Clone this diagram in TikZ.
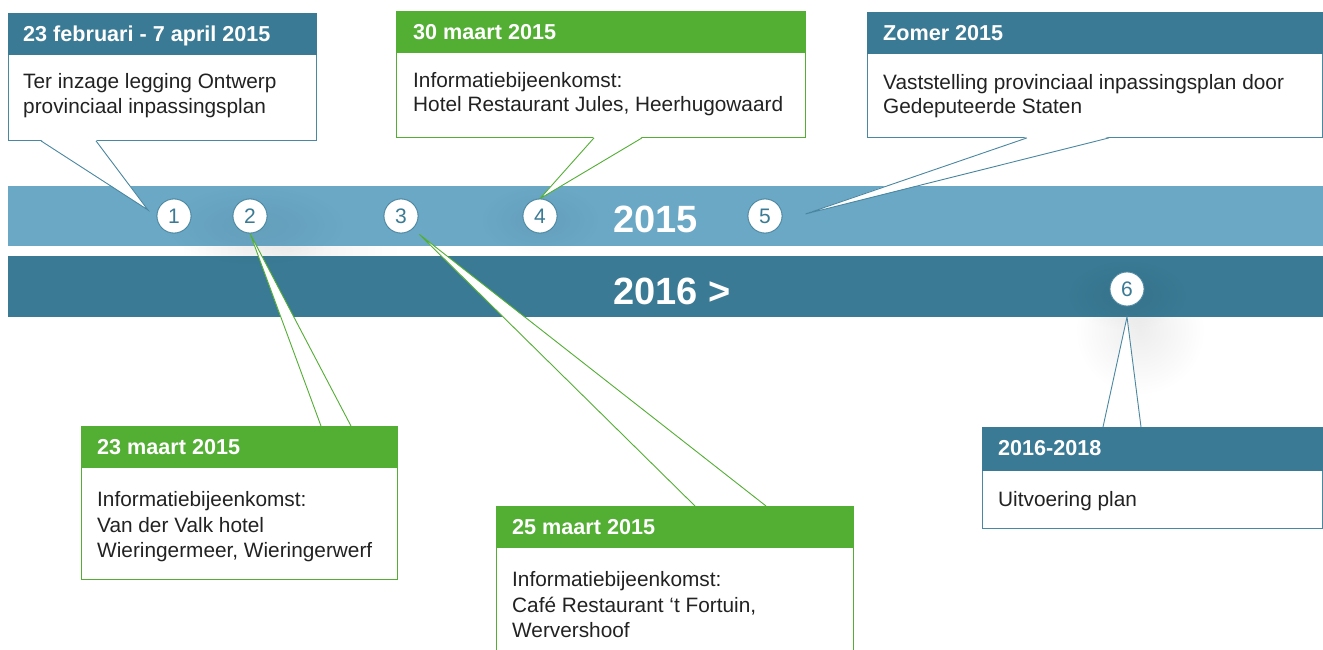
\documentclass[tikz,border=0pt]{standalone}
\usepackage{fontspec}
\setmainfont{Liberation Sans}
\usetikzlibrary{fadings,calc}

\definecolor{tealdk}{HTML}{3A7A94}
\definecolor{tealln}{HTML}{4A87A1}
\definecolor{bandlt}{HTML}{6AA8C6}
\definecolor{grn}{HTML}{53AE34}
\definecolor{txt}{HTML}{222222}

\tikzfading[name=glowfade, inner color=transparent!0, outer color=transparent!100]

\begin{document}
\begin{tikzpicture}[x=1pt,y=-1pt,
  hdr/.style={anchor=base west, inner sep=0pt, text=white, font=\fontsize{21.6}{24}\selectfont\bfseries},
  body/.style={anchor=base west, inner sep=0pt, text=txt, font=\fontsize{20.8}{25}\selectfont},
  num/.style={circle, draw=tealln, line width=0.8pt, fill=white, minimum size=34pt, inner sep=0pt, text=tealdk, font=\fontsize{21}{21}\selectfont},
  year/.style={anchor=base west, inner sep=0pt, text=white, font=\fontsize{38}{40}\selectfont\bfseries},
  card/.style={anchor=north west, fill=white, line width=0.9pt, inner sep=0pt},
  glow/.style={fill=black, path fading=glowfade}]

\useasboundingbox (0,0) rectangle (1323,650);
\fill[white] (0,0) rectangle (1323,650);

% soft haze behind the markers
\fill[glow, opacity=0.06] (290,250) ellipse (110 and 60);
\fill[glow, opacity=0.07] (1140,330) circle (65);

% year bands
\fill[bandlt] (8,186) rectangle (1323,246);
\fill[tealdk] (8,256) rectangle (1323,317);
\fill[glow, opacity=0.06] (255,225) ellipse (90 and 40);
\fill[glow, opacity=0.05] (540,220) ellipse (60 and 35);
\fill[glow, opacity=0.06] (1127,295) ellipse (60 and 35);

\node[year] (y15) at (613,232) {2015};
\node[year] (y16) at (613,304) {2016 >};

% markers
\node[num] (c1) at (174,216) {1};
\node[num] (c2) at (250,216) {2};
\node[num] (c3) at (401,216) {3};
\node[num] (c4) at (540,216) {4};
\node[num] (c5) at (765,216) {5};
\node[num] (c6) at (1127,289) {6};

% pointer tips
\coordinate (t1) at ($(c1.center)+(-26,-6)$);
\coordinate (t2) at (c2.south);
\coordinate (t3) at ($(c3.south east)+(6,6)$);
\coordinate (t4) at (c4.north);
\coordinate (t5) at ($(c5.east)+(23,-2)$);
\coordinate (t6) at ($(c6.center)+(0,28)$);

% ---- card 1
\node[card, draw=tealln, minimum width=308pt, minimum height=127pt] (b1) at (8,13) {};
\fill[white] ($(b1.south west)+(33,-1)$) -- (t1) -- ($(b1.south west)+(88,-1)$) -- cycle;
\draw[tealln, line width=0.9pt] ($(b1.south west)+(33,0)$) -- (t1) -- ($(b1.south west)+(88,0)$);
\fill[tealdk] (b1.north west) rectangle ($(b1.north east)+(0,42)$);
\node[hdr] (h1) at (23,42) {23 februari - 7 april 2015};
\node[body] (l1a) at (23,89) {Ter inzage legging Ontwerp};
\node[body] (l1b) at (23,114) {provinciaal inpassingsplan};

% ---- card 2
\node[card, draw=grn, minimum width=409pt, minimum height=126pt] (b2) at (396,11) {};
\fill[white] ($(b2.south west)+(198,-1)$) -- (t4) -- ($(b2.south west)+(246,-1)$) -- cycle;
\draw[grn, line width=0.9pt] ($(b2.south west)+(198,0)$) -- (t4) -- ($(b2.south west)+(246,0)$);
\fill[grn] (b2.north west) rectangle ($(b2.north east)+(0,42)$);
\node[hdr] (h2) at (413,40) {30 maart 2015};
\node[body] (l2a) at (413,88) {Informatiebijeenkomst:};
\node[body] (l2b) at (413,112) {Hotel Restaurant Jules, Heerhugowaard};

% ---- card 3
\node[card, draw=tealln, minimum width=455pt, minimum height=125pt] (b3) at (867,12) {};
\fill[white] ($(b3.south west)+(160,-1)$) -- (t5) -- ($(b3.south west)+(242,-1)$) -- cycle;
\draw[tealln, line width=0.9pt] ($(b3.south west)+(160,0)$) -- (t5) -- ($(b3.south west)+(242,0)$);
\fill[tealdk] (b3.north west) rectangle ($(b3.north east)+(0,42)$);
\node[hdr] (h3) at (883,41) {Zomer 2015};
\node[body] (l3a) at (883,90) {Vaststelling provinciaal inpassingsplan door};
\node[body] (l3b) at (883,114) {Gedeputeerde Staten};

% ---- card 4
\node[card, draw=grn, minimum width=316pt, minimum height=153pt] (b4) at (81,426) {};
\fill[white] ($(b4.north west)+(240,1)$) -- (t2) -- ($(b4.north west)+(270,1)$) -- cycle;
\draw[grn, line width=0.9pt] ($(b4.north west)+(240,0)$) -- (t2) -- ($(b4.north west)+(270,0)$);
\fill[grn] (b4.north west) rectangle ($(b4.north east)+(0,42)$);
\node[hdr] (h4) at (97,454) {23 maart 2015};
\node[body] (l4a) at (97,506) {Informatiebijeenkomst:};
\node[body] (l4b) at (97,532) {Van der Valk hotel};
\node[body] (l4c) at (97,557) {Wieringermeer, Wieringerwerf};

% ---- card 5
\node[card, draw=grn, minimum width=357pt, minimum height=160pt] (b5) at (496,506) {};
\fill[white] ($(b5.north west)+(199,1)$) -- (t3) -- ($(b5.north west)+(270,1)$) -- cycle;
\draw[grn, line width=0.9pt] ($(b5.north west)+(199,0)$) -- (t3) -- ($(b5.north west)+(270,0)$);
\fill[grn] (b5.north west) rectangle ($(b5.north east)+(0,42)$);
\node[hdr] (h5) at (512,534) {25 maart 2015};
\node[body] (l5a) at (512,586) {Informatiebijeenkomst:};
\node[body] (l5b) at (512,612) {Café Restaurant ‘t Fortuin,};
\node[body] (l5c) at (512,637) {Wervershoof};

% ---- card 6
\node[card, draw=tealln, minimum width=340pt, minimum height=101pt] (b6) at (982,427) {};
\fill[white] ($(b6.north west)+(121,1)$) -- (t6) -- ($(b6.north west)+(159,1)$) -- cycle;
\draw[tealln, line width=0.9pt] ($(b6.north west)+(121,0)$) -- (t6) -- ($(b6.north west)+(159,0)$);
\fill[tealdk] (b6.north west) rectangle ($(b6.north east)+(0,44)$);
\node[hdr] (h6) at (998,455) {2016-2018};
\node[body] (l6a) at (998,506) {Uitvoering plan};

% markers drawn again over the pointers
\node[num] at (c1) {1};
\node[num] at (c2) {2};
\node[num] at (c3) {3};
\node[num] at (c4) {4};
\node[num] at (c5) {5};
\node[num] at (c6) {6};
\end{tikzpicture}
\end{document}
